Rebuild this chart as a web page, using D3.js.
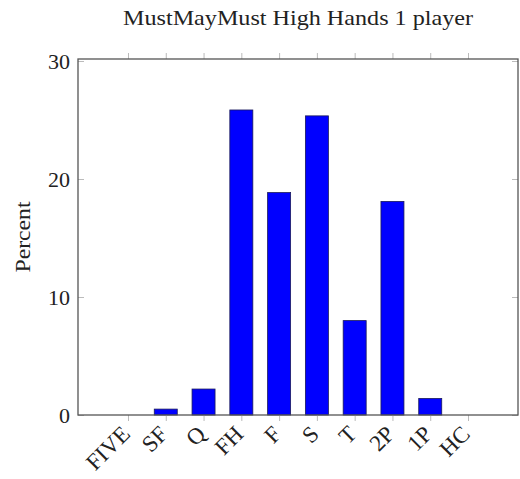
<!DOCTYPE html>
<html><head><meta charset="utf-8">
<script src="https://cdn.jsdelivr.net/npm/d3@7/dist/d3.min.js"></script>
<style>html,body{margin:0;padding:0;background:#fff;}</style>
</head><body>
<svg id="chart" width="520" height="479"></svg>
<script>
const categories = ["FIVE","SF","Q","FH","F","S","T","2P","1P","HC"];
const values = [0, 0.5, 2.2, 25.85, 18.85, 25.35, 8.0, 18.1, 1.4, 0];
const yTicks = [0, 10, 20, 30];
const title = "MustMayMust High Hands 1 player";
const yLabel = "Percent";

const svg = d3.select("#chart");
const L = 78, R = 518, T = 59, B = 415;
const font = "'Liberation Serif', 'DejaVu Serif', serif";

const x = d3.scaleLinear().domain([-1.323, categories.length - 1 + 1.323]).range([L, R]);
const y = d3.scaleLinear().domain([0, 30.17]).range([B, T]);
const barW = 23;

// bars
svg.append("g").selectAll("rect").data(values).join("rect")
  .attr("x", (d, i) => x(i) - barW / 2)
  .attr("width", barW)
  .attr("y", d => y(d))
  .attr("height", d => y(0) - y(d))
  .attr("fill", "#0000ff")
  .attr("stroke", "#1a1a5a")
  .attr("stroke-width", 0.8);

// x axis bottom (ticks outside)
const xb = svg.append("g").attr("transform", `translate(0,${B})`)
  .call(d3.axisBottom(x).tickValues(d3.range(categories.length)).tickSize(6).tickFormat(""));
xb.select(".domain").remove();
xb.selectAll("line").attr("stroke", "#bbb").attr("stroke-width", 1);

// x axis top ticks
const xt = svg.append("g").attr("transform", `translate(0,${T})`)
  .call(d3.axisTop(x).tickValues(d3.range(categories.length)).tickSize(6).tickFormat(""));
xt.select(".domain").remove();
xt.selectAll("line").attr("stroke", "#bbb").attr("stroke-width", 1);

// y ticks inside left/right
const yl = svg.append("g").attr("transform", `translate(${L},0)`)
  .call(d3.axisRight(y).tickValues(yTicks).tickSize(6).tickFormat(""));
yl.select(".domain").remove();
yl.selectAll("line").attr("stroke", "#bbb");
const yr = svg.append("g").attr("transform", `translate(${R},0)`)
  .call(d3.axisLeft(y).tickValues(yTicks).tickSize(6).tickFormat(""));
yr.select(".domain").remove();
yr.selectAll("line").attr("stroke", "#bbb");

// y labels
svg.append("g").selectAll("text").data(yTicks).join("text")
  .attr("x", L - 8).attr("y", d => y(d)).attr("dy", "0.35em")
  .attr("text-anchor", "end")
  .attr("font-family", font).attr("font-size", 22).attr("fill", "#222")
  .text(d => d);

// x labels rotated
svg.append("g").selectAll("text").data(categories).join("text")
  .attr("transform", (d, i) => `translate(${x(i) - 8},${B + 9}) rotate(-45)`)
  .attr("text-anchor", "end").attr("dy", "0.7em")
  .attr("font-family", font).attr("font-size", 23).attr("fill", "#222")
  .text(d => d);

// frame
svg.append("rect").attr("x", L).attr("y", T).attr("width", R - L).attr("height", B - T)
  .attr("fill", "none").attr("stroke", "#555").attr("stroke-width", 1.3);

// title
svg.append("text").attr("x", (L + R) / 2).attr("y", 25).attr("text-anchor", "middle")
  .attr("font-family", font).attr("font-size", 21).attr("fill", "#222")
  .attr("textLength", 350).attr("lengthAdjust", "spacingAndGlyphs")
  .text(title);

// y label
svg.append("text").attr("transform", `translate(30,${(T + B) / 2}) rotate(-90)`)
  .attr("text-anchor", "middle")
  .attr("font-family", font).attr("font-size", 22).attr("fill", "#222")
  .attr("textLength", 71).attr("lengthAdjust", "spacingAndGlyphs")
  .text(yLabel);
</script>
</body></html>
